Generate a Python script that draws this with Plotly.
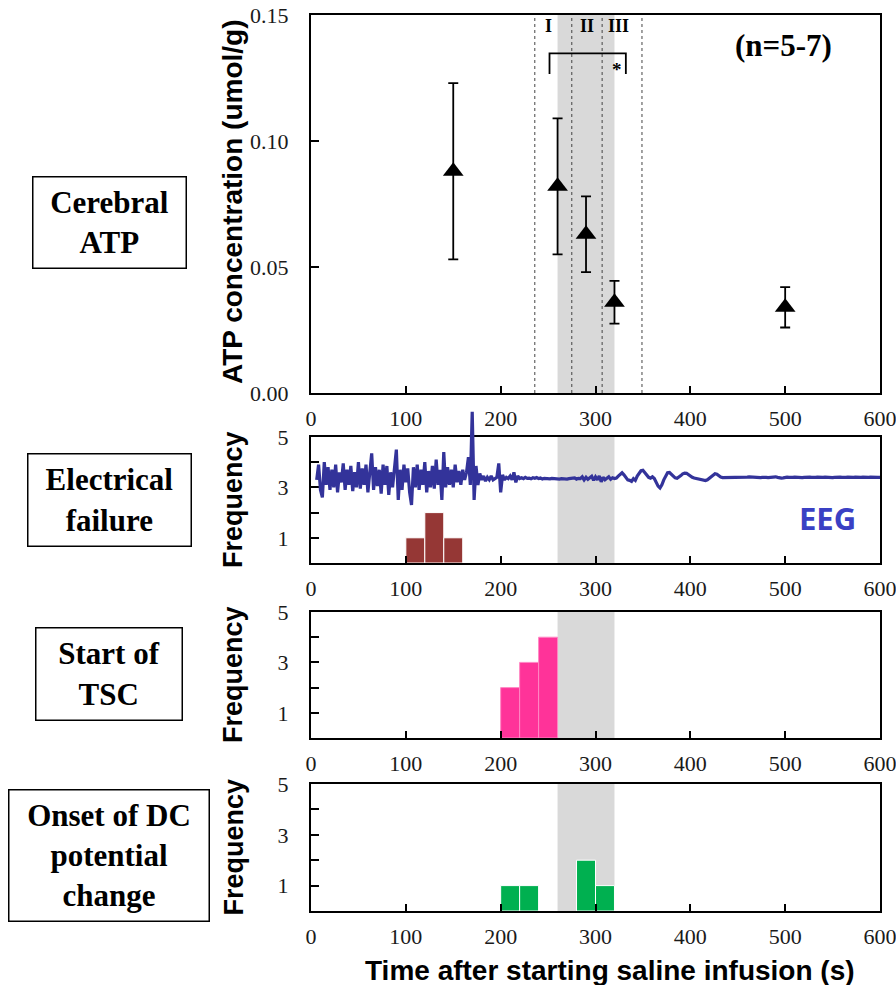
import numpy as np
import plotly.graph_objects as go

# ---------------------------------------------------------------- data
# Cerebral ATP (mean +/- SD)
atp_time = [150, 260, 290, 320, 500]
atp_mean = [0.088, 0.082, 0.063, 0.036, 0.034]
atp_sd = [0.035, 0.027, 0.015, 0.0085, 0.008]

# Histogram bins (20 s wide): start of bin and count
BIN = 20
ef_start = [100, 120, 140]          # electrical failure
ef_count = [1, 2, 1]
tsc_start = [200, 220, 240]         # start of TSC
tsc_count = [2, 3, 4]
dc_start = [200, 220, 280, 300]     # onset of DC potential change
dc_count = [1, 1, 2, 1]

# EEG trace, sampled every 2 s from t = 6 s
EEG_T0, EEG_DT = 6, 2
eeg_values = [
    3.3, 3.9, 2.9, 2.6, 4.0, 3.1, 3.8, 2.9, 3.7, 3.0,
    3.9, 2.8, 3.6, 3.2, 3.95, 2.9, 3.7, 3.1, 3.85, 2.85,
    3.6, 3.0, 4.0, 2.95, 3.75, 3.1, 3.9, 2.8, 3.6, 4.35,
    2.9, 3.8, 3.05, 3.7, 2.75, 3.9, 3.1, 3.85, 2.7, 3.6,
    3.0, 3.8, 4.5, 2.5, 3.7, 2.9, 3.9, 3.2, 3.75, 2.8,
    2.3, 3.8, 3.0, 3.9, 2.9, 3.7, 3.1, 4.0, 2.8, 3.65,
    3.0, 3.85, 2.95, 4.1, 3.1, 3.7, 2.5, 4.4, 3.0, 3.8,
    3.1, 3.7, 3.0, 3.9, 3.2, 3.65, 3.1, 3.7, 3.3, 3.6,
    4.2, 3.1,
    6.0, 2.5, 3.85, 3.1, 3.55, 3.3, 3.45, 3.25, 3.4, 3.3,
    3.45, 3.3, 3.35, 3.4, 3.95, 2.8, 3.5, 3.3, 3.4, 3.35,
    3.45, 3.3, 3.6, 3.2, 3.45, 3.35,
    3.38, 3.35, 3.4, 3.36, 3.37, 3.34, 3.38, 3.36, 3.39, 3.35,
    3.37, 3.33, 3.36, 3.35, 3.37, 3.34, 3.36, 3.35, 3.36, 3.34,
    3.33, 3.35, 3.34, 3.36, 3.33, 3.35, 3.36, 3.34, 3.38, 3.33,
    3.36, 3.35, 3.42, 3.3, 3.4, 3.32, 3.37, 3.44, 3.28, 3.42,
    3.3, 3.45, 3.22, 3.4, 3.3, 3.36, 3.42, 3.32, 3.38, 3.35,
    3.37, 3.45, 3.5, 3.58, 3.5, 3.38, 3.3, 3.28, 3.24, 3.35,
    3.28, 3.45, 3.55, 3.66, 3.68, 3.6, 3.48, 3.4, 3.37, 3.42,
    3.35, 3.2, 3.05, 2.98, 3.1, 3.3, 3.48, 3.58, 3.59, 3.52,
    3.44, 3.38, 3.36, 3.4, 3.47, 3.54, 3.57, 3.56, 3.5, 3.44,
    3.4, 3.37, 3.35, 3.34, 3.3, 3.28, 3.27, 3.27, 3.3, 3.36,
    3.44, 3.5, 3.54, 3.52, 3.46, 3.41, 3.39, 3.39, 3.4, 3.41,
    3.40, 3.39, 3.40, 3.41, 3.40, 3.39, 3.38, 3.39, 3.40, 3.41,
    3.42, 3.41, 3.40, 3.39, 3.38, 3.38, 3.39, 3.40, 3.41, 3.40,
    3.39, 3.40, 3.41, 3.43, 3.42, 3.40, 3.38, 3.37, 3.38, 3.40,
    3.41, 3.40, 3.39, 3.40, 3.41, 3.40, 3.39, 3.38, 3.39, 3.40,
    3.41, 3.42, 3.41, 3.40, 3.39, 3.40, 3.41, 3.40, 3.39, 3.40,
    3.41, 3.40, 3.39, 3.38, 3.39, 3.40, 3.41, 3.42, 3.41, 3.40,
    3.39, 3.40, 3.41, 3.40, 3.39, 3.40, 3.41, 3.40, 3.39, 3.40,
    3.41, 3.40, 3.39, 3.40, 3.41, 3.40, 3.40, 3.41, 3.40, 3.40,
]
eeg_time = EEG_T0 + EEG_DT * np.arange(len(eeg_values))

# Phases and shading
shade_band = (260, 320)
phase_bounds = [236, 275, 307, 349]
phase_labels = ["I", "II", "III"]
phase_label_x = [250, 291, 324]

x_ticks = [0, 100, 200, 300, 400, 500, 600]
atp_ticks = [0.0, 0.05, 0.10, 0.15]
atp_ticktext = ["0.00", "0.05", "0.10", "0.15"]
freq_ticks = [0, 1, 2, 3, 4, 5]
freq_ticktext = ["", "1", "", "3", "", "5"]

# ---------------------------------------------------------------- layout helpers
W, H = 896, 985
X0, X1 = 311, 880


def fx(p):
    return p / W


def fy(p):
    return 1 - p / H


PANEL = {
    "top": (15, 393),
    "eeg": (437, 563),
    "tsc": (612, 738),
    "dc": (784, 911),
}

SERIF = "Liberation Serif, Times New Roman, serif"
SANS = "Liberation Sans, Arial, sans-serif"

tickfont = dict(family=SERIF, size=22, color="#1a1a1a")


def x_axis(anchor):
    return dict(
        domain=[fx(X0), fx(X1)], range=[0, 600], anchor=anchor,
        tickmode="array", tickvals=x_ticks, ticks="inside", ticklen=7,
        tickwidth=2, tickcolor="black", showline=True, linecolor="black",
        linewidth=2, mirror=True, showgrid=False, zeroline=False,
        tickfont=tickfont, ticklabelstandoff=5, ticklabeloverflow="allow",
        automargin=False,
    )


def y_axis(anchor, key, vals, text, rng):
    top, bot = PANEL[key]
    return dict(
        domain=[fy(bot), fy(top)], range=rng, anchor=anchor,
        tickmode="array", tickvals=vals, ticktext=text, ticks="inside",
        ticklen=8, tickwidth=1.5, tickcolor="black", showline=True,
        linecolor="black", linewidth=2, mirror=True, showgrid=False,
        zeroline=False, tickfont=tickfont, ticklabelstandoff=16,
        ticklabeloverflow="allow", automargin=False,
    )


fig = go.Figure()

# ---------------------------------------------------------------- traces
fig.add_trace(go.Scatter(
    x=atp_time, y=atp_mean, mode="markers", xaxis="x", yaxis="y",
    marker=dict(symbol="triangle-up", size=18, color="black"),
    error_y=dict(type="data", array=atp_sd, visible=True, color="black",
                 thickness=1.8, width=5),
    showlegend=False,
))

fig.add_trace(go.Bar(
    x=ef_start, y=ef_count, offset=0, width=BIN, xaxis="x2", yaxis="y2",
    marker=dict(color="#953735", line=dict(color="white", width=1)),
    showlegend=False,
))

# EEG trace gets its own overlay axes whose top reaches above the panel
EEG_TOP_PX = 405
eeg_bot, eeg_top = PANEL["eeg"][1], PANEL["eeg"][0]
eeg_range_top = 5 * (eeg_bot - EEG_TOP_PX) / (eeg_bot - eeg_top)
fig.add_trace(go.Scatter(
    x=eeg_time, y=eeg_values, mode="lines", xaxis="x5", yaxis="y5",
    line=dict(color="#33339A", width=3.2), showlegend=False,
))

fig.add_trace(go.Bar(
    x=tsc_start, y=tsc_count, offset=0, width=BIN, xaxis="x3", yaxis="y3",
    marker=dict(color="#FF3399", line=dict(color="#FF88C4", width=1)),
    showlegend=False,
))

fig.add_trace(go.Bar(
    x=dc_start, y=dc_count, offset=0, width=BIN, xaxis="x4", yaxis="y4",
    marker=dict(color="#00B050", line=dict(color="white", width=1)),
    showlegend=False,
))

# ---------------------------------------------------------------- shapes
shapes = []
for xr, yr in [("x", "y"), ("x2", "y2"), ("x3", "y3"), ("x4", "y4")]:
    shapes.append(dict(
        type="rect", xref=xr, yref=f"{yr} domain", x0=shade_band[0],
        x1=shade_band[1], y0=0, y1=1, fillcolor="#D9D9D9",
        line=dict(width=0), layer="below",
    ))
for xb in phase_bounds:
    shapes.append(dict(
        type="line", xref="x", yref="y domain", x0=xb, x1=xb, y0=0, y1=1,
        line=dict(color="#444444", width=1, dash="3px,3px"),
    ))
# significance bracket between phase I and III
shapes.append(dict(
    type="path", xref="x", yref="y",
    path="M 251.5,0.1266 V 0.1348 H 332 V 0.1266",
    line=dict(color="black", width=1.8),
))

# ---------------------------------------------------------------- annotations
ann = []
for lab, xl in zip(phase_labels, phase_label_x):
    ann.append(dict(x=xl, y=0.1455, xref="x", yref="y", text=f"<b>{lab}</b>",
                    showarrow=False, font=dict(family=SERIF, size=18,
                                               color="black"),
                    xanchor="center", yanchor="middle"))
ann.append(dict(x=323, y=0.1285, xref="x", yref="y", text="<b>*</b>",
                showarrow=False, xanchor="center", yanchor="middle",
                font=dict(family=SERIF, size=19, color="black")))
ann.append(dict(x=498, y=0.138, xref="x", yref="y", text="<b>(n=5-7)</b>",
                showarrow=False, xanchor="center", yanchor="middle",
                font=dict(family=SERIF, size=31, color="black")))
ann.append(dict(x=545, y=1.8, xref="x2", yref="y2", text="<b>EEG</b>",
                showarrow=False, xanchor="center", yanchor="middle",
                font=dict(family="Noto Sans, sans-serif", size=31,
                          color="#3A40C4")))

# y-axis titles
ann.append(dict(x=fx(233), y=fy(202), xref="paper", yref="paper",
                text="<b>ATP concentration (umol/g)</b>", textangle=-90,
                showarrow=False, xanchor="center", yanchor="middle",
                font=dict(family=SANS, size=28, color="black")))
for key in ["eeg", "tsc", "dc"]:
    t, b = PANEL[key]
    ann.append(dict(x=fx(233), y=fy((t + b) / 2), xref="paper",
                    yref="paper", text="<b>Frequency</b>", textangle=-90,
                    showarrow=False, xanchor="center", yanchor="middle",
                    font=dict(family=SANS, size=27, color="black")))

# x-axis title
ann.append(dict(x=fx(610), y=fy(970), xref="paper", yref="paper",
                text="<b>Time after starting saline infusion (s)</b>",
                showarrow=False, xanchor="center", yanchor="middle",
                font=dict(family=SANS, size=28, color="black")))

# boxed row labels
boxes = [
    ("Cerebral<br>ATP", 109.5, 222, 155, 93),
    ("Electrical<br>failure", 109.5, 500, 165, 94),
    ("Start of<br>TSC", 109, 674, 148, 94),
    ("Onset of DC<br>potential<br>change", 109, 855, 202, 133),
]
for txt, cx, cy, bw, bh in boxes:
    ann.append(dict(x=fx(cx), y=fy(cy), xref="paper", yref="paper",
                    text=f"<b>{txt}</b>", showarrow=False, width=bw - 3,
                    height=bh - 3, borderpad=0, bordercolor="black",
                    borderwidth=1.5, bgcolor="white", align="center",
                    valign="middle", xanchor="center", yanchor="middle",
                    font=dict(family=SERIF, size=31, color="black")))

# ---------------------------------------------------------------- layout
fig.update_layout(
    width=W, height=H, autosize=False,
    margin=dict(l=0, r=0, t=0, b=0, autoexpand=False),
    paper_bgcolor="white", plot_bgcolor="rgba(0,0,0,0)",
    showlegend=False, shapes=shapes, annotations=ann,
    xaxis=x_axis("y"),
    yaxis=y_axis("x", "top", atp_ticks, atp_ticktext, [0, 0.15]),
    xaxis2=x_axis("y2"),
    yaxis2=y_axis("x2", "eeg", freq_ticks, freq_ticktext, [0, 5]),
    xaxis3=x_axis("y3"),
    yaxis3=y_axis("x3", "tsc", freq_ticks, freq_ticktext, [0, 5]),
    xaxis4=x_axis("y4"),
    yaxis4=y_axis("x4", "dc", freq_ticks, freq_ticktext, [0, 5]),
    xaxis5=dict(domain=[fx(X0), fx(X1)], range=[0, 600], anchor="y5",
                visible=False, automargin=False),
    yaxis5=dict(domain=[fy(eeg_bot), fy(EEG_TOP_PX)],
                range=[0, eeg_range_top], anchor="x5", visible=False,
                automargin=False),
)

fig.write_html("out.html")
